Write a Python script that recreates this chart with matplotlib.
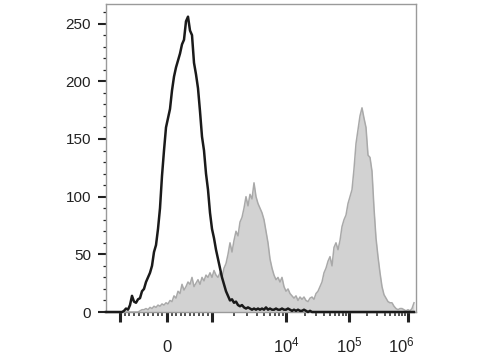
import numpy as np
import matplotlib.pyplot as plt
from matplotlib.transforms import ScaledTranslation

plt.rcParams['font.family'] = ['Liberation Sans', 'DejaVu Sans']
plt.rcParams['mathtext.default'] = 'regular'

# counts per display channel (isotype control = black, stained sample = grey)
black_counts = [0, 0, 0, 0, 0, 0, 0, 0, 0, 1,
                3, 2, 6, 14, 9, 8, 11, 12, 18, 20,
                26, 30, 34, 40, 52, 58, 72, 90, 118, 140,
                160, 168, 176, 192, 204, 212, 218, 224, 232, 236,
                252, 256, 244, 240, 216, 206, 194, 174, 152, 140,
                120, 106, 86, 72, 64, 54, 46, 38, 30, 24,
                18, 14, 10, 11, 8, 9, 6, 5, 6, 4,
                3, 4, 3, 2, 3, 2, 3, 2, 3, 2,
                4, 2, 3, 2, 2, 3, 2, 2, 3, 2,
                2, 3, 2, 1, 2, 1, 2, 1, 1, 2,
                1, 0, 1, 0, 0, 0, 0, 0, 0, 0,
                0, 0, 0, 0, 0, 0, 0, 0, 0, 0,
                0, 0, 0, 0, 0, 0, 0, 0, 0, 0,
                0, 0, 0, 0, 0, 0, 0, 0, 0, 0,
                0, 0, 0, 0, 0, 0, 0, 0, 0, 0,
                0, 0, 0, 0, 0]
gray_counts = [0, 0, 0, 0, 0, 0, 0, 0, 0, 0,
               0, 0, 0, 0, 0, 0, 0, 1, 2, 2,
               3, 2, 4, 3, 5, 4, 6, 5, 7, 6,
               8, 7, 10, 9, 14, 12, 18, 16, 24, 19,
               22, 26, 24, 30, 22, 25, 28, 24, 30, 27,
               32, 30, 34, 30, 36, 32, 30, 34, 30, 38,
               42, 50, 60, 52, 62, 70, 66, 78, 82, 90,
               100, 92, 102, 98, 112, 100, 94, 90, 86, 80,
               70, 60, 46, 38, 32, 28, 30, 26, 30, 22,
               18, 20, 16, 14, 12, 14, 10, 13, 11, 13,
               10, 9, 12, 13, 11, 16, 18, 22, 26, 34,
               38, 44, 48, 40, 56, 60, 54, 62, 74, 80,
               84, 94, 100, 106, 124, 146, 158, 170, 177, 168,
               160, 136, 134, 122, 90, 64, 48, 34, 22, 15,
               12, 9, 8, 8, 5, 3, 2, 3, 3, 2,
               1, 2, 1, 3, 8]

# biexponential display: decade position -> display channel
anchor_s = [-2, -1, 0, 1, 2, 3, 4, 5]
anchor_ch = [-30, 7, 30.5, 53, 90, 121.5, 151, 180.5]


def to_channel(v):
    v = np.asarray(v, dtype=float)
    a = np.abs(v)
    s = np.where(a <= 1000, v / 1000,
                 np.sign(v) * (1 + np.log10(np.maximum(a, 1000) / 1000)))
    return np.interp(s, anchor_s, anchor_ch)


major_vals = [-1000, 0, 1000, 1e4, 1e5, 1e6]
major_labels = ['', '0', '', '$10^4$', '$10^5$', '$10^6$']
minor_vals = (list(range(-900, 0, 100)) + list(range(100, 1000, 100))
              + [k * 10 ** e for e in (3, 4, 5) for k in range(2, 10)])

channel = np.arange(len(black_counts))

fig = plt.figure(figsize=(4.8, 3.6), dpi=100)
ax = fig.add_axes([106 / 480, 48 / 360, 310 / 480, 308 / 360])

ax.fill_between(channel, gray_counts, color='#d2d2d2', lw=0)
ax.plot(channel, gray_counts, color='#a9a9a9', lw=1.1)
ax.plot(channel, black_counts, color='#1a1a1a', lw=1.8, clip_on=False, zorder=5)

ax.set_xlim(0, 155)
ax.set_ylim(0, 267)

ax.set_yticks(range(0, 251, 50))
ax.set_yticks(range(0, 261, 10), minor=True)
ax.set_xticks(to_channel(major_vals), major_labels)
ax.set_xticks(to_channel(minor_vals), minor=True)

ax.tick_params(axis='y', which='major', length=5.8, width=1.5, pad=5,
               labelsize=11, color='#222222', labelcolor='#222222')
ax.tick_params(axis='y', which='minor', length=2.5, width=0.9, color='#222222')
ax.tick_params(axis='x', which='major', length=7, width=2.2, pad=22,
               labelsize=12, color='#222222', labelcolor='#222222')
ax.tick_params(axis='x', which='minor', length=3.2, width=1.1, color='#222222')
xlabels = ax.get_xticklabels()
plt.setp(xlabels, va='baseline')
# last decade label sits a little left of its tick in the original
xlabels[-1].set_transform(xlabels[-1].get_transform()
                          + ScaledTranslation(-0.07, 0, fig.dpi_scale_trans))

for side in ['top', 'right', 'left', 'bottom']:
    ax.spines[side].set_color('#9a9a9a')
    ax.spines[side].set_linewidth(1)

fig.savefig('out.png', dpi=100)
